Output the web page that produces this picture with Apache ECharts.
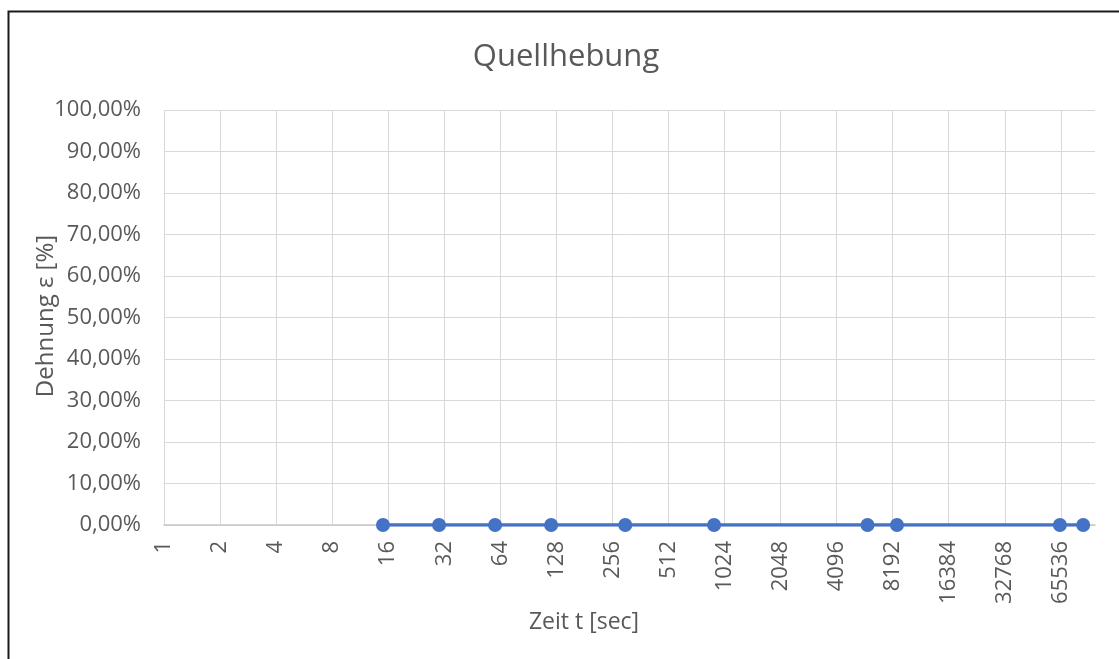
<!DOCTYPE html>
<html lang="de">
<head>
	<meta charset="UTF-8">
	<title>Quellhebung</title>
	<script src="https://cdn.jsdelivr.net/npm/echarts@6/dist/echarts.min.js"></script>
	<style>
		html, body { margin: 0; padding: 0; background: #fff; }
		#chart { width: 1119px; height: 659px; }
	</style>
</head>
<body>
	<div id="chart"></div>
	<script>
		// Messzeitpunkte in Sekunden und Dehnung (Anteil, 0 = 0%)
		var zeiten = [15, 30, 60, 120, 300, 900, 6000, 8640, 64800, 86400];
		var dehnung = [0, 0, 0, 0, 0, 0, 0, 0, 0, 0];

		var titel = 'Quellhebung';
		var xName = 'Zeit t [sec]';
		var yName = 'Dehnung ε [%]';

		var grau = '#595959';
		var schrift = '"Open Sans", "Noto Sans", sans-serif';

		var punkte = [];
		for (var i = 0; i < zeiten.length; i++) {
			punkte.push([zeiten[i], dehnung[i]]);
		}

		var chart = echarts.init(document.getElementById('chart'));
		chart.setOption({
			animation: false,
			grid: { left: 164, right: 24, top: 110, bottom: 134, containLabel: false },
			xAxis: {
				type: 'log',
				logBase: 2,
				min: 1,
				max: 100000,
				interval: 1,
				axisLine: { show: true, lineStyle: { color: '#c8c8c8', width: 1.5 } },
				axisTick: { show: false },
				splitLine: { show: true, showMaxLine: false, lineStyle: { color: '#d9d9d9', width: 1 } },
				axisLabel: {
					rotate: 90,
					margin: 16,
					color: grau,
					fontFamily: schrift,
					fontSize: 22,
					showMaxLabel: false,
					formatter: function (v) {
						var r = Math.round(v);
						var p = Math.round(Math.log2(r));
						return Math.pow(2, p) === r ? String(r) : '';
					}
				}
			},
			yAxis: {
				type: 'value',
				min: 0,
				max: 1,
				interval: 0.1,
				axisLine: { show: false },
				axisTick: { show: false },
				splitLine: { lineStyle: { color: '#d9d9d9', width: 1 } },
				axisLabel: {
					margin: 23,
					color: grau,
					fontFamily: schrift,
					fontSize: 22,
					formatter: function (v) {
						return (v * 100).toFixed(2).replace('.', ',') + '%';
					}
				}
			},
			series: [{
				type: 'line',
				data: punkte,
				symbol: 'circle',
				symbolSize: 14,
				lineStyle: { color: '#4472c4', width: 3.5 },
				itemStyle: { color: '#4472c4' }
			}],
			graphic: [
				{
					type: 'polyline',
					shape: { points: [[8.5, 680], [8.5, 11.5], [1130, 11.5]] },
					style: { stroke: '#1a1a1a', lineWidth: 2, fill: null }
				},
				{
					type: 'text', x: 566, y: 57,
					style: { text: titel, fill: grau, font: '31px ' + schrift, textAlign: 'center', textVerticalAlign: 'middle' }
				},
				{
					type: 'text', x: 584, y: 622,
					style: { text: xName, fill: grau, font: '23px ' + schrift, textAlign: 'center', textVerticalAlign: 'middle' }
				},
				{
					type: 'text', x: 46, y: 316, rotation: Math.PI / 2,
					style: { text: yName, fill: grau, font: '24px ' + schrift, textAlign: 'center', textVerticalAlign: 'middle' }
				}
			]
		});
	</script>
</body>
</html>
